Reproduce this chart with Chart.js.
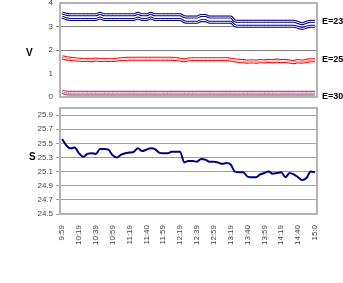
<!DOCTYPE html>
<html>
<head>
<meta charset="utf-8">
<script src="https://cdn.jsdelivr.net/npm/chart.js@4"></script>
<style>
    body { margin: 0; background: #fff; }
    #wrap { position: relative; width: 343px; height: 283px; overflow: hidden; font-family: "Liberation Sans", Arial, sans-serif; }
    canvas { position: absolute; left: 0; }
    .lbl { position: absolute; font-weight: bold; color: #000; line-height: 1; }
</style>
</head>
<body>
<div id="wrap">
    <canvas id="sChart" style="top:100px;" width="343" height="183"></canvas>
    <canvas id="voltChart" style="top:-10px;" width="343" height="115"></canvas>
    <span class="lbl" style="left:26px; top:48px; font-size:10px;">V</span>
    <span class="lbl" style="left:29px; top:152px; font-size:10px;">S</span>
    <span class="lbl" style="left:322px; top:17px; font-size:9px;">E=23</span>
    <span class="lbl" style="left:322px; top:55px; font-size:9px;">E=25</span>
    <span class="lbl" style="left:322px; top:92px; font-size:9px;">E=30</span>
</div>
<script>
// time ticks shown every 4th sample (samples ~5 min apart)
const tickLabels = ['9:59', '10:19', '10:39', '10:59', '11:19', '11:40', '11:59', '12:19',
    '12:39', '12:59', '13:19', '13:40', '13:59', '14:19', '14:40', '15:0'];

// top panel - V
const voltE23a = [3.58, 3.52, 3.50, 3.50, 3.50, 3.50, 3.50, 3.50, 3.50, 3.56,
    3.50, 3.50, 3.50, 3.50, 3.50, 3.50, 3.50, 3.50, 3.56, 3.50,
    3.50, 3.56, 3.50, 3.50, 3.50, 3.50, 3.50, 3.50, 3.50, 3.42,
    3.40, 3.40, 3.40, 3.47, 3.47, 3.40, 3.40, 3.40, 3.40, 3.40,
    3.40, 3.24, 3.22, 3.22, 3.22, 3.22, 3.22, 3.22, 3.22, 3.22,
    3.22, 3.22, 3.22, 3.22, 3.22, 3.22, 3.17, 3.12, 3.18, 3.22, 3.22];
const voltE23b = [3.40, 3.33, 3.30, 3.30, 3.30, 3.30, 3.30, 3.30, 3.30, 3.36,
    3.30, 3.30, 3.30, 3.30, 3.30, 3.30, 3.30, 3.30, 3.36, 3.30,
    3.30, 3.36, 3.30, 3.30, 3.30, 3.30, 3.30, 3.30, 3.30, 3.20,
    3.18, 3.18, 3.18, 3.25, 3.25, 3.18, 3.18, 3.18, 3.18, 3.18,
    3.18, 3.04, 3.01, 3.01, 3.01, 3.01, 3.01, 3.01, 3.01, 3.01,
    3.01, 3.01, 3.01, 3.01, 3.01, 3.01, 2.96, 2.92, 2.97, 3.01, 3.01];
const voltE25a = [1.72, 1.67, 1.65, 1.63, 1.61, 1.59, 1.61, 1.59, 1.62, 1.59,
    1.61, 1.59, 1.59, 1.61, 1.63, 1.64, 1.65, 1.65, 1.65, 1.65,
    1.65, 1.65, 1.65, 1.65, 1.65, 1.65, 1.65, 1.63, 1.61, 1.58,
    1.62, 1.63, 1.63, 1.63, 1.63, 1.63, 1.63, 1.63, 1.63, 1.63,
    1.61, 1.58, 1.56, 1.55, 1.53, 1.54, 1.53, 1.55, 1.54, 1.56,
    1.55, 1.57, 1.55, 1.56, 1.53, 1.51, 1.55, 1.53, 1.56, 1.59, 1.59];
const voltE25b = [1.66, 1.62, 1.60, 1.58, 1.56, 1.55, 1.56, 1.54, 1.57, 1.55,
    1.56, 1.55, 1.55, 1.57, 1.59, 1.60, 1.61, 1.61, 1.61, 1.61,
    1.61, 1.61, 1.61, 1.61, 1.61, 1.61, 1.61, 1.59, 1.57, 1.54,
    1.58, 1.59, 1.59, 1.59, 1.59, 1.59, 1.59, 1.59, 1.59, 1.59,
    1.57, 1.54, 1.51, 1.50, 1.48, 1.49, 1.48, 1.50, 1.49, 1.51,
    1.50, 1.52, 1.50, 1.51, 1.48, 1.46, 1.50, 1.48, 1.51, 1.54, 1.54];
const voltE30a = [0.26, 0.21, 0.20, 0.20, 0.20, 0.20, 0.20, 0.20, 0.20, 0.20,
    0.20, 0.20, 0.20, 0.20, 0.20, 0.20, 0.20, 0.20, 0.20, 0.20,
    0.20, 0.20, 0.20, 0.20, 0.20, 0.20, 0.20, 0.20, 0.20, 0.20,
    0.20, 0.20, 0.20, 0.20, 0.20, 0.20, 0.20, 0.20, 0.20, 0.20,
    0.20, 0.20, 0.20, 0.20, 0.20, 0.20, 0.20, 0.20, 0.20, 0.20,
    0.20, 0.20, 0.20, 0.20, 0.20, 0.20, 0.20, 0.20, 0.20, 0.20, 0.20];
const voltE30b = [0.20, 0.14, 0.13, 0.13, 0.13, 0.13, 0.13, 0.13, 0.13, 0.13,
    0.13, 0.13, 0.13, 0.13, 0.13, 0.13, 0.13, 0.13, 0.13, 0.13,
    0.13, 0.13, 0.13, 0.13, 0.13, 0.13, 0.13, 0.13, 0.13, 0.13,
    0.13, 0.13, 0.13, 0.13, 0.13, 0.13, 0.13, 0.13, 0.13, 0.13,
    0.13, 0.13, 0.13, 0.13, 0.13, 0.13, 0.13, 0.13, 0.13, 0.13,
    0.13, 0.13, 0.13, 0.13, 0.13, 0.13, 0.13, 0.13, 0.13, 0.13, 0.13];

// bottom panel - S
const sValues = [25.56, 25.47, 25.43, 25.44, 25.36, 25.31, 25.35, 25.36, 25.35, 25.42,
    25.42, 25.41, 25.33, 25.30, 25.34, 25.36, 25.37, 25.38, 25.43, 25.39,
    25.41, 25.43, 25.42, 25.37, 25.36, 25.36, 25.38, 25.38, 25.38, 25.23,
    25.25, 25.25, 25.24, 25.28, 25.27, 25.24, 25.24, 25.23, 25.21, 25.22,
    25.20, 25.10, 25.09, 25.09, 25.03, 25.02, 25.02, 25.06, 25.08, 25.10,
    25.07, 25.08, 25.09, 25.02, 25.08, 25.06, 25.02, 24.98, 25.01, 25.10, 25.09];
const sTicks = [24.5, 24.7, 24.9, 25.1, 25.3, 25.5, 25.7, 25.9];

const categories = [];
for (let i = 0; i < sValues.length; i++) {
    categories.push(i % 4 === 0 ? tickLabels[i / 4] : '');
}

const FONT = { family: '"Liberation Sans", Arial, sans-serif', size: 8 };

// gray frame round the plot area
const frame = {
    id: 'frame',
    beforeDatasetsDraw(chart) {
        const a = chart.chartArea, c = chart.ctx;
        c.save();
        c.strokeStyle = '#b4b4b4';
        c.lineWidth = 2;
        c.strokeRect(a.left, a.top, a.right - a.left, a.bottom - a.top);
        c.restore();
    }
};

// thick colored line with a thin white core -> double line look
function doubleLine(data, color) {
    return [
        { data: data, borderColor: '#fff', borderWidth: 1, order: 0 },
        { data: data, borderColor: color, borderWidth: 3, order: 1 }
    ];
}

const voltSets = [].concat(
    doubleLine(voltE23a, '#000080'),
    doubleLine(voltE23b, '#000080'),
    doubleLine(voltE25a, '#ff0000'),
    doubleLine(voltE25b, '#ff0000'),
    doubleLine(voltE30a, '#993366'),
    doubleLine(voltE30b, '#993366')
);

// canvas starts 10px above the page, so the plot spans y 3..97 on the page
new Chart(document.getElementById('voltChart'), {
    type: 'line',
    data: { labels: categories, datasets: voltSets },
    options: {
        responsive: false,
        animation: false,
        layout: { padding: { top: 13, bottom: 8, right: 26, left: 0 } },
        elements: { point: { radius: 0 }, line: { cubicInterpolationMode: 'monotone' } },
        plugins: { legend: { display: false }, tooltip: { enabled: false } },
        scales: {
            x: { display: false, offset: true },
            y: {
                min: 0, max: 4,
                afterFit: s => { s.width = 60; },
                ticks: { stepSize: 1, color: '#444', font: FONT, padding: 3 },
                border: { display: false },
                grid: {
                    tickLength: 4,
                    color: ctx => (ctx.tick && (ctx.tick.value === 2 || ctx.tick.value === 3)) ? '#808080' : 'rgba(0,0,0,0)'
                }
            }
        }
    },
    plugins: [frame]
});

new Chart(document.getElementById('sChart'), {
    type: 'line',
    data: {
        labels: categories,
        datasets: [{ data: sValues, borderColor: '#000080', borderWidth: 2 }]
    },
    options: {
        responsive: false,
        animation: false,
        layout: { padding: { top: 8, bottom: 0, right: 26, left: 0 } },
        elements: { point: { radius: 0 }, line: { cubicInterpolationMode: 'monotone' } },
        plugins: { legend: { display: false }, tooltip: { enabled: false } },
        scales: {
            x: {
                offset: true,
                afterFit: s => { s.height = 69; },
                grid: { display: false },
                border: { display: false },
                ticks: { autoSkip: false, maxRotation: 90, minRotation: 90, color: '#444', font: FONT, padding: 3 }
            },
            y: {
                min: 24.5, max: 26.0,
                afterBuildTicks: s => { s.ticks = sTicks.map(v => ({ value: v })); },
                afterFit: s => { s.width = 60; },
                ticks: { color: '#444', font: FONT, padding: 3, callback: v => v.toFixed(1) },
                border: { display: false },
                grid: { tickLength: 4, color: '#a0a0a0' }
            }
        }
    },
    plugins: [frame]
});
</script>
</body>
</html>
